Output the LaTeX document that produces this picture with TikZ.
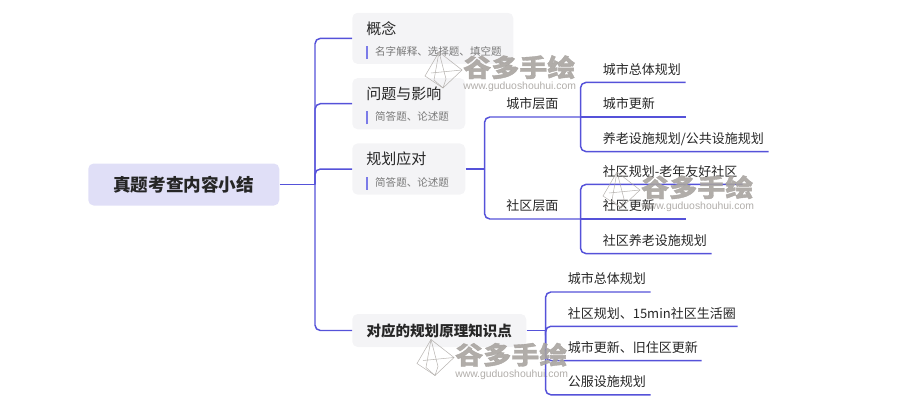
\documentclass[tikz,border=0pt]{standalone}
\usepackage{fontspec}
\usepackage{xcolor}
\usetikzlibrary{positioning}
\setmainfont{Noto Sans CJK SC}
\setsansfont{Liberation Sans}
\newfontfamily\markfont[FakeStretch=1.135,BoldFeatures={FakeBold=1.5}]{Noto Sans CJK SC}
\definecolor{linkblue}{HTML}{5552D9}
\definecolor{rootfill}{HTML}{E0DFF7}
\definecolor{topicfill}{HTML}{F4F4F6}
\definecolor{tickblue}{HTML}{7B7BE8}
\definecolor{inkdark}{HTML}{262626}
\definecolor{inkgray}{HTML}{7A7A7A}
\definecolor{markgray}{HTML}{A8A4A0}
\newcommand{\subline}[1]{\mbox{{\color{tickblue}\rule[-2.6pt]{1.1pt}{9.8pt}}\hspace{5.6pt}{\color{inkgray}\fontsize{7.9}{10}\selectfont #1}}}
\newcommand{\watermark}[2]{
  \begin{scope}[shift={(#2)}]
    \draw[markline] (14,0)--(37,18)--(18,36)--(0,24)--cycle;
    \draw[markline] (14,0)--(9,28)--(18,36);
    \draw[markline] (14,0)--(21,27)--(18,36);
    \draw[markline] (6,21)--(37,18);
    \node[marktext] (mark#1) at (38,3) {谷多手绘};
    \node[markurl,below=2pt of mark#1.south west,anchor=north west] (url#1) {www.guduoshouhui.com};
  \end{scope}
}
\begin{document}
\begin{tikzpicture}[
  x=0.75pt,y=-0.75pt,
  root/.style={fill=rootfill,rounded corners=4pt,minimum width=143.25pt,
               minimum height=31.5pt,inner sep=0pt,text=inkdark,font=\fontsize{13.2}{16}\selectfont\bfseries},
  topic/.style={fill=topicfill,rounded corners=4pt,text width=#1,text height=16.1pt,text depth=22.3pt,
               inner xsep=10.5pt,inner ysep=0pt,align=left,text=inkdark,
               font=\fontsize{11.25}{16}\selectfont},
  point/.style={fill=topicfill,rounded corners=4pt,minimum width=130.5pt,minimum height=24.75pt,
               inner sep=0pt,text=inkdark,font=\fontsize{10.9}{14}\selectfont\bfseries},
  branch/.style={minimum width=72pt,text height=19.5pt,text depth=6pt,inner sep=0pt,
               text=inkdark,font=\fontsize{9.75}{12}\selectfont},
  leaf/.style={text width=#1,text height=19.5pt,text depth=6pt,inner sep=0pt,align=left,
               text=inkdark,font=\fontsize{9.75}{12}\selectfont,
               execute at begin node=\hspace*{16.9pt}},
  link/.style={draw=linkblue,line width=1.1pt,rounded corners=4pt},
  markline/.style={draw=markgray,line width=0.4pt,opacity=0.8},
  marktext/.style={anchor=north west,inner sep=0pt,text=markgray,opacity=0.9,
               font=\fontsize{18.5}{20}\markfont\bfseries},
  markurl/.style={inner sep=0pt,text=markgray,opacity=0.9,
               font=\fontsize{7.8}{9}\sffamily}
]
\useasboundingbox (0,0) rectangle (900,400);
\node[root,anchor=west] (root) at (88,184.5) {真题考查内容小结};
\coordinate (trunk) at (315,184.5);
\node[topic=99.75pt,anchor=north west] (concept) at (352,12.5) {概念\\\subline{名字解释、选择题、填空题}};
\node[topic=63.75pt,below=10.2pt of concept.south west,anchor=north west] (impact) {问题与影响\\\subline{简答题、论述题}};
\node[topic=63.75pt,below=10.2pt of impact.south west,anchor=north west] (plan) {规划应对\\\subline{简答题、论述题}};
\node[point,anchor=west] (theory) at (352,330.5) {对应的规划原理知识点};
% city and community level
\coordinate[right=14.25pt of plan.east] (planhub);
\node[branch,anchor=south west] (city) at (484,117) {城市层面};
\node[branch,anchor=south west] (comm) at (484,219) {社区层面};
\node[leaf=78.75pt,anchor=south west] (cityb) at (580,117) {城市更新};
\node[leaf=78.75pt,above=0pt of cityb.north west,anchor=south west] (citya) {城市总体规划};
\node[leaf=141pt,below=0pt of cityb.south west,anchor=north west] (cityc) {养老设施规划/公共设施规划};
\node[leaf=78.75pt,anchor=south west] (commb) at (580,219) {社区更新};
\node[leaf=121.5pt,above=0pt of commb.north west,anchor=south west] (comma) {社区规划-老年友好社区};
\node[leaf=98.25pt,below=0pt of commb.south west,anchor=north west] (commc) {社区养老设施规划};
% theory items
\coordinate[right=14.25pt of theory.east] (theoryhub);
\node[leaf=78.75pt,anchor=south west] (itema) at (545,292) {城市总体规划};
\node[leaf=144pt,below=-0.2pt of itema.south west,anchor=north west] (itemb) {社区规划、15min社区生活圈};
\node[leaf=117pt,below=-0.2pt of itemb.south west,anchor=north west] (itemc) {城市更新、旧住区更新};
\node[leaf=78.75pt,below=-0.2pt of itemc.south west,anchor=north west] (itemd) {公服设施规划};
\draw[link] (root.east)--(trunk);
\draw[link] (trunk) |- (concept.west);
\draw[link] (trunk) |- (impact.west);
\draw[link] (trunk) |- (plan.west);
\draw[link] (trunk) |- (theory.west);
\draw[link] (plan.east)--(planhub);
\draw[link] (planhub) |- (city.south east);
\draw[link] (planhub) |- (comm.south east);
\draw[link] (city.south east) |- (citya.south east);
\draw[link] (city.south east)--(cityb.south east);
\draw[link] (city.south east) |- (cityc.south east);
\draw[link] (comm.south east) |- (comma.south east);
\draw[link] (comm.south east)--(commb.south east);
\draw[link] (comm.south east) |- (commc.south east);
\draw[link] (theory.east)--(theoryhub);
\draw[link] (theoryhub) |- (itema.south east);
\draw[link] (theoryhub) |- (itemb.south east);
\draw[link] (theoryhub) |- (itemc.south east);
\draw[link] (theoryhub) |- (itemd.south east);
% watermarks
\watermark{one}{425,52}
\watermark{two}{603,172}
\watermark{three}{417,339.5}
\end{tikzpicture}
\end{document}
